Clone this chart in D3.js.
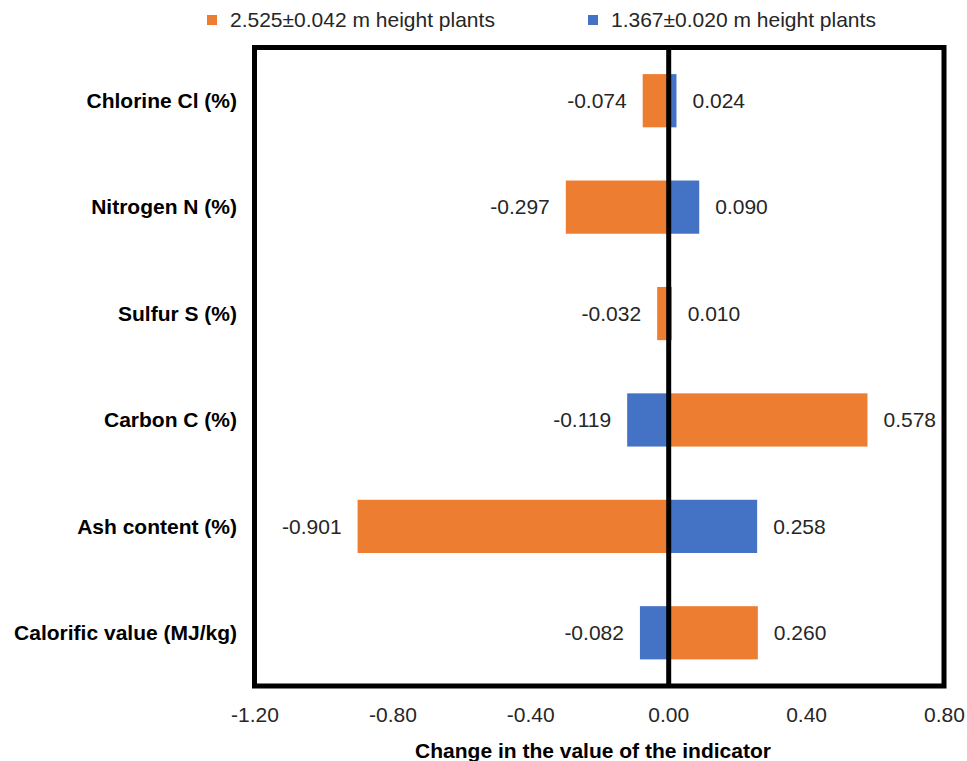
<!DOCTYPE html>
<html>
<head>
<meta charset="utf-8">
<script src="https://cdn.jsdelivr.net/npm/d3@7"></script>
<style>
  body { margin: 0; background: #fff; }
  svg { display: block; font-family: "Liberation Sans", Arial, sans-serif; }
</style>
</head>
<body>
<svg id="chart" width="967" height="761"></svg>
<script>
// Indicators, top to bottom
const categories = [
  "Chlorine Cl (%)",
  "Nitrogen N (%)",
  "Sulfur S (%)",
  "Carbon C (%)",
  "Ash content (%)",
  "Calorific value (MJ/kg)"
];
const seriesNames = ["2.525±0.042 m height plants", "1.367±0.020 m height plants"];
const tallValues  = [-0.074, -0.297, -0.032, 0.578, -0.901, 0.260];
const shortValues = [0.024, 0.090, 0.010, -0.119, 0.258, -0.082];
const xTicks = [-1.20, -0.80, -0.40, 0.00, 0.40, 0.80];

const colors = ["#ED7D31", "#4472C4"];
const svg = d3.select("#chart");
const fontSize = 21;

const plot = { left: 254.5, right: 944, top: 47.5, bottom: 686 };

const x = d3.scaleLinear().domain([-1.2, 0.8]).range([plot.left, plot.right]);
const y = d3.scaleBand().domain(categories).range([plot.top, plot.bottom]).paddingInner(0.5).paddingOuter(0.25);

const series = [tallValues, shortValues];

// Bars: both series share the same band, one on each side of zero
series.forEach((vals, si) => {
  svg.append("g").selectAll("rect")
    .data(vals)
    .join("rect")
    .attr("x", d => Math.min(x(0), x(d)))
    .attr("width", d => Math.abs(x(d) - x(0)))
    .attr("y", (d, i) => y(categories[i]))
    .attr("height", y.bandwidth())
    .attr("fill", colors[si]);
});

// Value labels outside the bar end
const labelGap = 16;
series.forEach((vals, si) => {
  svg.append("g").selectAll("text")
    .data(vals)
    .join("text")
    .attr("x", d => d < 0 ? x(d) - labelGap : x(d) + labelGap)
    .attr("y", (d, i) => y(categories[i]) + y.bandwidth() / 2)
    .attr("dy", "0.35em")
    .attr("text-anchor", d => d < 0 ? "end" : "start")
    .attr("font-size", fontSize)
    .attr("fill", "#262626")
    .text(d => d3.format(".3f")(d).replace("−", "-"));
});

// Zero line
svg.append("line")
  .attr("x1", x(0) + 0.5).attr("x2", x(0) + 0.5)
  .attr("y1", plot.top).attr("y2", plot.bottom)
  .attr("stroke", "#000").attr("stroke-width", 5);

// Plot frame
svg.append("rect")
  .attr("x", plot.left).attr("y", plot.top)
  .attr("width", plot.right - plot.left).attr("height", plot.bottom - plot.top)
  .attr("fill", "none").attr("stroke", "#000").attr("stroke-width", 5);

// X axis tick labels
const xAxis = d3.axisBottom(x).tickValues(xTicks).tickSize(0).tickPadding(0)
  .tickFormat(d => d3.format(".2f")(d).replace("−", "-"));
const gx = svg.append("g").attr("transform", `translate(0,${plot.bottom + 21})`).call(xAxis);
gx.select(".domain").remove();
gx.selectAll("text").attr("font-size", fontSize).attr("fill", "#262626")
  .attr("font-family", "Liberation Sans, Arial, sans-serif");

// X axis title
svg.append("text")
  .attr("x", 593).attr("y", 751).attr("dy", "0.35em")
  .attr("text-anchor", "middle")
  .attr("font-size", fontSize).attr("font-weight", "bold").attr("fill", "#000")
  .text("Change in the value of the indicator");

// Category labels
svg.append("g").selectAll("text")
  .data(categories)
  .join("text")
  .attr("x", 237)
  .attr("y", d => y(d) + y.bandwidth() / 2)
  .attr("dy", "0.35em")
  .attr("text-anchor", "end")
  .attr("font-size", fontSize).attr("font-weight", "bold").attr("fill", "#000")
  .text(d => d);

// Legend
const legendPos = [207, 588];
const legend = svg.append("g").selectAll("g")
  .data(seriesNames)
  .join("g")
  .attr("transform", (d, i) => `translate(${legendPos[i]},20)`);
legend.append("rect")
  .attr("x", 0).attr("y", -5).attr("width", 10).attr("height", 10)
  .attr("fill", (d, i) => colors[i]);
legend.append("text")
  .attr("x", 23).attr("dy", "0.35em")
  .attr("font-size", fontSize).attr("fill", "#262626")
  .text(d => d);
</script>
</body>
</html>
